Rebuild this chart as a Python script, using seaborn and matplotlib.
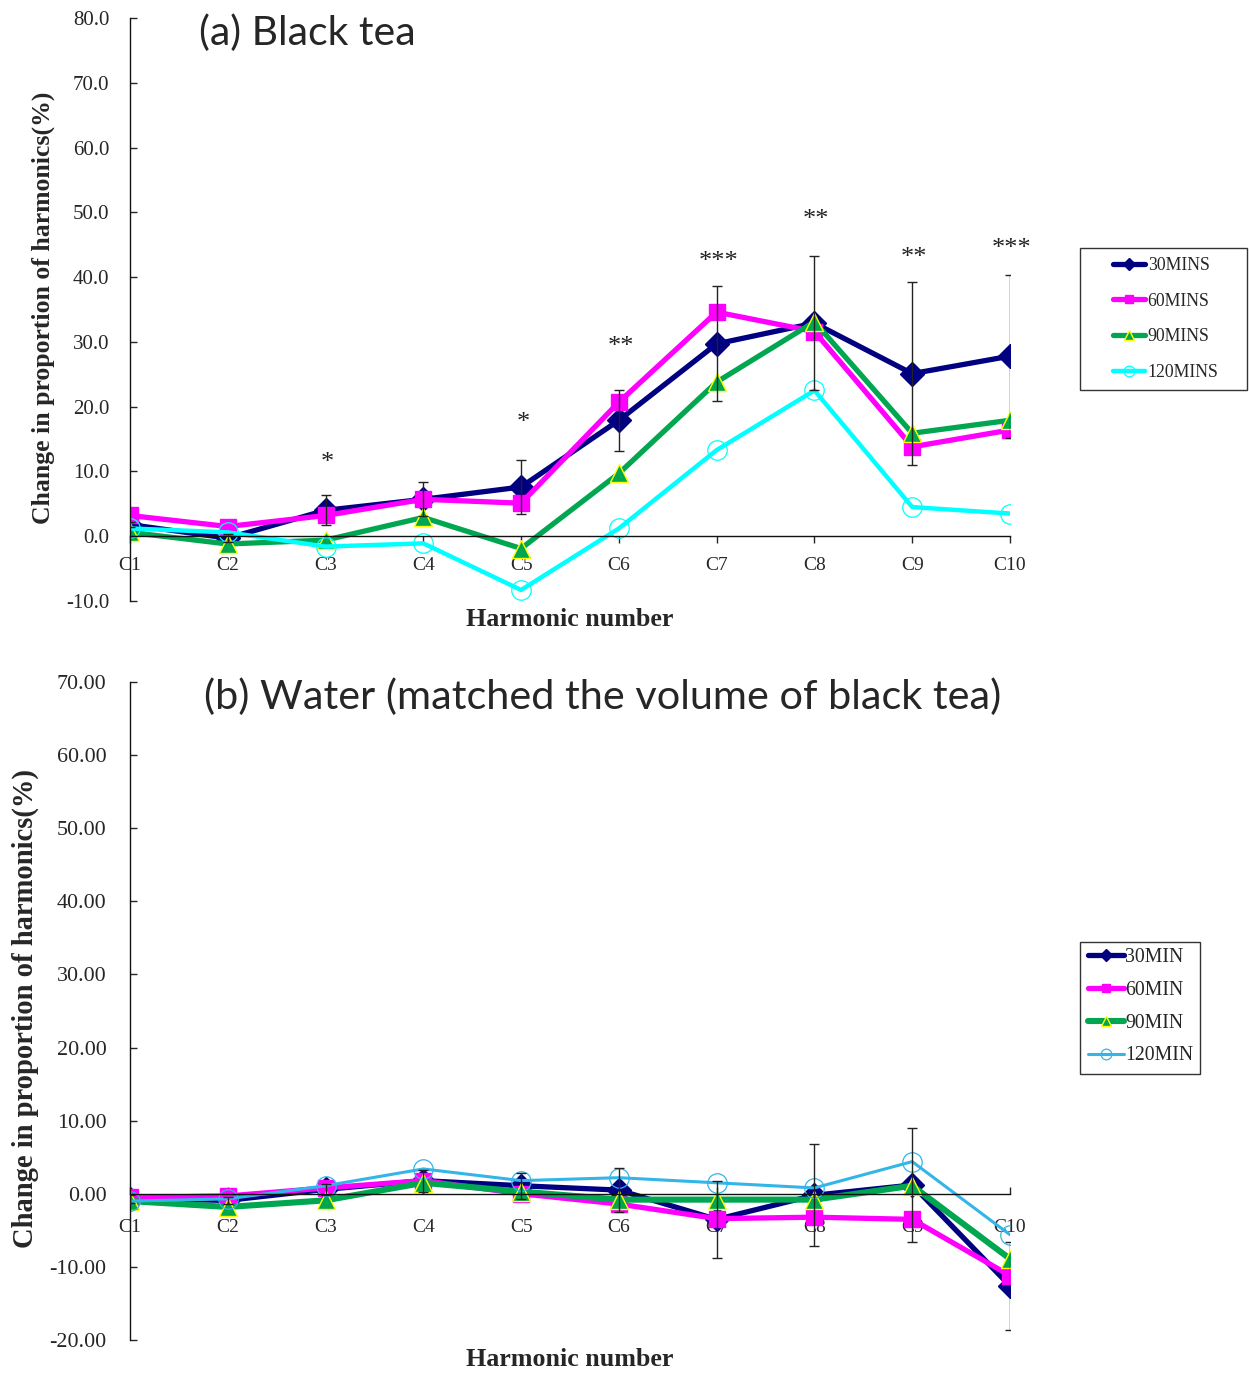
import numpy as np
import pandas as pd
import matplotlib
matplotlib.use("Agg")
import matplotlib.pyplot as plt
from matplotlib.patches import Rectangle
import seaborn as sns

# Datos
harmonics = ["C1", "C2", "C3", "C4", "C5", "C6", "C7", "C8", "C9", "C10"]

# (a) Black tea
tea_30 = [1.8, -0.3, 4.0, 5.7, 7.6, 17.9, 29.7, 32.9, 25.1, 27.8]
tea_60 = [3.2, 1.5, 3.2, 5.7, 5.1, 20.7, 34.6, 31.6, 13.8, 16.4]
tea_90 = [0.6, -1.2, -0.6, 2.9, -1.9, 9.7, 23.8, 33.1, 15.9, 17.9]
tea_120 = [1.2, 0.6, -1.6, -1.1, -8.3, 1.2, 13.3, 22.5, 4.5, 3.5]
tea_err = [0.4, 0.6, 2.3, 2.6, 4.2, 4.7, 8.9, 10.3, 14.1, 12.6]
tea_stars = ["", "", "*", "", "*", "**", "***", "**", "**", "***"]
tea_star_y = [0, 0, 11.3, 0, 17.5, 29.2, 42.3, 48.8, 42.9, 44.3]
tea_labels = ["30MINS", "60MINS", "90MINS", "120MINS"]

# (b) Water
water_30 = [-0.7, -0.9, 0.6, 1.8, 1.1, 0.5, -3.5, -0.2, 1.2, -12.6]
water_60 = [-0.5, -0.3, 0.8, 1.8, 0.0, -1.4, -3.4, -3.2, -3.5, -11.2]
water_90 = [-1.0, -1.8, -0.9, 1.5, 0.3, -0.8, -0.8, -0.8, 1.1, -8.9]
water_120 = [-1.0, -0.7, 1.1, 3.4, 1.8, 2.2, 1.5, 0.8, 4.4, -5.6]
water_err = [0.5, 0.5, 0.8, 1.5, 1.8, 3.0, 5.3, 7.0, 7.8, 6.0]
water_labels = ["30MIN", "60MIN", "90MIN", "120MIN"]

sns.set_style("white")
plt.rcParams['font.family'] = ['Liberation Serif', 'DejaVu Serif']

W, H = 1249, 1373
fig = plt.figure(figsize=(W / 100, H / 100), dpi=100)

pos = np.arange(len(harmonics))

NAVY = "#000080"
MAGENTA = "#ff00ff"
GREEN = "#00a650"


def fx(px):
    return px / W


def fy(py):
    return 1 - py / H


def draw_panel(ax, series, labels, colors, widths, err, ylim, fmt, tick_fs, xdir, xpad, ypad):
    styles = [
        dict(marker="D", markersize=12, markerfacecolor=NAVY, markeredgecolor=NAVY, markeredgewidth=1),
        dict(marker="s", markersize=11.5, markerfacecolor=MAGENTA, markeredgecolor=MAGENTA, markeredgewidth=1),
        dict(marker="^", markersize=13.5, markerfacecolor=GREEN, markeredgecolor="#ffff00", markeredgewidth=1),
        dict(marker="o", markersize=14, markerfacecolor="none", markeredgecolor=colors[3], markeredgewidth=0.9),
    ]
    for vals, lab, col, lw, st in zip(series, labels, colors, widths, styles):
        sns.lineplot(x=pos, y=vals, ax=ax, color=col, linewidth=lw, label=lab, **st)
    ax.errorbar(pos, series[0], yerr=err, fmt="none", ecolor="#222222",
                elinewidth=1, capsize=3.5, capthick=1, zorder=6)

    ax.set_xlim(0, 9)
    ax.set_ylim(*ylim)
    ax.set_yticks(np.arange(ylim[0], ylim[1] + 1, 10))
    ax.set_yticklabels([fmt % v for v in np.arange(ylim[0], ylim[1] + 1, 10)])
    ax.set_xticks(pos)
    ax.set_xticklabels(harmonics)
    ax.spines['bottom'].set_position(('data', 0))
    ax.spines['top'].set_visible(False)
    ax.spines['right'].set_visible(False)
    for s in ['left', 'bottom']:
        ax.spines[s].set_color("#111111")
        ax.spines[s].set_linewidth(1)
    ax.tick_params(axis='y', direction='in', length=5, width=1, pad=ypad,
                   labelsize=tick_fs, left=True)
    ax.tick_params(axis='x', direction=xdir, length=5, width=1, pad=xpad,
                   labelsize=14, bottom=True)
    ax.set_xlabel("")
    ax.set_ylabel("")
    ax.get_legend().remove()


# Panel (a)
ax1 = fig.add_axes([fx(130), fy(601), fx(1010) - fx(130), fy(18) - fy(601)])
draw_panel(ax1, [tea_30, tea_60, tea_90, tea_120], tea_labels,
           [NAVY, MAGENTA, GREEN, "#00ffff"], [3.8, 3.8, 3.8, 3.2],
           tea_err, (-10, 80), "%.1f", 15, 'out', 10, 15)
for i, (s, yv) in enumerate(zip(tea_stars, tea_star_y)):
    if s:
        ax1.text(pos[i] + 0.02, yv, s, ha='center', va='center', fontsize=19, color="#222222")

h, l = ax1.get_legend_handles_labels()
fig.patches.append(Rectangle((fx(1080), fy(390)), fx(1247) - fx(1080), fy(248) - fy(390),
                             transform=fig.transFigure, fill=False, edgecolor="#333333", linewidth=1))
fig.legend(h[:4], l[:4], loc='upper left', bbox_to_anchor=(fx(1113), fy(257)),
           frameon=False, borderpad=0, borderaxespad=0, fontsize=12.8,
           handlelength=1.8, handletextpad=0.15, labelspacing=1.05, markerscale=0.55)

fig.text(fx(199), fy(33), "(a) Black tea", fontsize=29.5, family=['Lato', 'DejaVu Sans'],
         ha='left', va='center')
fig.text(fx(43), fy(308), "Change in proportion of harmonics(%)", rotation=90,
         fontsize=18.5, fontweight='bold', ha='center', va='center')
fig.text(fx(570), fy(619), "Harmonic number", fontsize=18.7, fontweight='bold',
         ha='center', va='center')

# Panel (b)
ax2 = fig.add_axes([fx(130), fy(1340), fx(1010) - fx(130), fy(682) - fy(1340)])
draw_panel(ax2, [water_30, water_60, water_90, water_120], water_labels,
           [NAVY, MAGENTA, GREEN, "#33b5e8"], [3.8, 3.8, 4.4, 2.2],
           water_err, (-20, 70), "%.2f", 15.8, 'in', 18, 17)

h, l = ax2.get_legend_handles_labels()
fig.patches.append(Rectangle((fx(1080), fy(1074)), fx(1200) - fx(1080), fy(942) - fy(1074),
                             transform=fig.transFigure, fill=False, edgecolor="#333333", linewidth=1))
fig.legend(h[:4], l[:4], loc='upper left', bbox_to_anchor=(fx(1088), fy(948)),
           frameon=False, borderpad=0, borderaxespad=0, fontsize=14.2,
           handlelength=1.8, handletextpad=0.1, labelspacing=0.7, markerscale=0.55)

fig.text(fx(204), fy(697), "(b) Water (matched the volume of black tea)", fontsize=29.8,
         family=['Lato', 'DejaVu Sans'], ha='left', va='center')
fig.text(fx(25), fy(1009), "Change in proportion of harmonics(%)", rotation=90,
         fontsize=20.6, fontweight='bold', ha='center', va='center')
fig.text(fx(570), fy(1360), "Harmonic number", fontsize=18.7, fontweight='bold',
         ha='center', va='center')

fig.savefig("out.png", dpi=100)
